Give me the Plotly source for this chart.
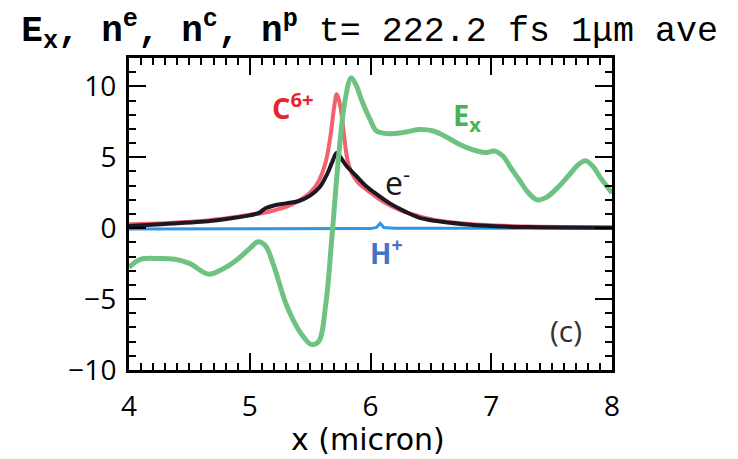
import plotly.graph_objects as go

# ---- data ----
ex_x = [4.0, 4.1, 4.25, 4.38, 4.5, 4.66, 4.78, 4.9, 5.0, 5.07, 5.13, 5.2, 5.3, 5.41,
        5.51, 5.57, 5.63, 5.68, 5.74, 5.79, 5.84, 5.88, 5.93, 6.0, 6.05, 6.16, 6.28,
        6.4, 6.52, 6.62, 6.74, 6.85, 6.95, 7.03, 7.1, 7.16, 7.23, 7.3, 7.38, 7.46,
        7.55, 7.65, 7.72, 7.78, 7.84, 7.9, 8.0]
ex_y = [-2.76, -2.19, -2.14, -2.19, -2.48, -3.24, -2.86, -2.19, -1.43, -0.95, -1.24,
        -2.67, -5.33, -7.24, -8.19, -8.0, -5.33, -0.67, 5.43, 9.04, 10.6, 10.1, 8.95,
        7.6, 6.85, 6.66, 6.76, 6.95, 6.85, 6.47, 5.9, 5.52, 5.33, 5.43, 5.05, 4.28,
        3.43, 2.57, 2.0, 2.19, 2.86, 3.8, 4.47, 4.76, 4.38, 3.62, 2.48]

c_x = [4.0, 4.3, 4.6, 4.85, 5.0, 5.1, 5.2, 5.3, 5.4, 5.5, 5.57, 5.63, 5.67, 5.7, 5.72,
       5.75, 5.78, 5.81, 5.85, 5.9, 6.0, 6.1, 6.25, 6.4, 6.55, 6.75, 7.0, 7.3, 7.6, 8.0]
c_y = [0.28, 0.35, 0.5, 0.75, 0.95, 1.05, 1.25, 1.5, 1.9, 2.5, 3.3, 4.7, 6.6, 8.6, 9.45,
       8.6, 6.6, 4.8, 3.8, 3.2, 2.5, 1.9, 1.25, 0.85, 0.55, 0.35, 0.2, 0.12, 0.08, 0.05]

e_x = [4.0, 4.3, 4.6, 4.85, 5.0, 5.08, 5.13, 5.2, 5.3, 5.4, 5.5, 5.58, 5.64, 5.68, 5.72,
       5.76, 5.8, 5.88, 5.96, 6.05, 6.16, 6.28, 6.4, 6.55, 6.75, 7.0, 7.3, 7.6, 8.0]
e_y = [0.15, 0.3, 0.45, 0.7, 0.9, 1.1, 1.4, 1.6, 1.75, 1.9, 2.3, 2.9, 3.8, 4.6, 5.3,
       4.9, 4.4, 3.7, 3.0, 2.4, 1.75, 1.2, 0.75, 0.5, 0.3, 0.15, 0.08, 0.05, 0.03]

h_x = [4.0, 5.0, 6.0, 6.05, 6.08, 6.11, 6.2, 7.0, 8.0]
h_y = [-0.05, -0.05, -0.03, 0.05, 0.35, 0.05, 0.0, 0.0, 0.0]

x_range = [4, 8]
y_range = [-10, 12]
title_left = "E<sub>x</sub>, n<sup>e</sup>, n<sup>c</sup>, n<sup>p</sup>"
title_right = " t= 222.2 fs 1\u03bcm ave"
title_text = ("<span style=\"font-size:36px\"><b>" + title_left + "</b></span>"
              + title_right)

fig = go.Figure()
fig.add_trace(go.Scatter(x=h_x, y=h_y, mode="lines",
                         line=dict(color="rgb(50,150,225)", width=3)))
fig.add_trace(go.Scatter(x=c_x, y=c_y, mode="lines", line_shape="spline",
                         line=dict(color="rgba(240,70,85,0.85)", width=4)))
fig.add_trace(go.Scatter(x=e_x, y=e_y, mode="lines", line_shape="spline",
                         line=dict(color="rgb(30,22,35)", width=4)))
fig.add_trace(go.Scatter(x=ex_x, y=ex_y, mode="lines", line_shape="spline",
                         line=dict(color="rgb(110,195,130)", width=5)))

lab_font = "Open Sans"
fig.add_annotation(x=5.36, y=8.6, text="<b>C<sup>6+</sup></b>", showarrow=False,
                   font=dict(family=lab_font, size=29, color="rgb(232,35,45)"))
fig.add_annotation(x=6.8, y=7.9, text="<b>E<sub>x</sub></b>", showarrow=False,
                   font=dict(family=lab_font, size=29, color="rgb(70,180,80)"))
fig.add_annotation(x=6.22, y=3.3, text="e<sup>-</sup>", showarrow=False,
                   font=dict(family=lab_font, size=32, color="rgb(25,25,25)"))
fig.add_annotation(x=6.13, y=-1.65, text="<b>H<sup>+</sup></b>", showarrow=False,
                   font=dict(family=lab_font, size=28, color="rgb(68,114,196)"))
fig.add_annotation(x=7.62, y=-7.2, text="(c)", showarrow=False,
                   font=dict(family=lab_font, size=30, color="rgb(50,50,50)"))
fig.add_annotation(xref="paper", yref="paper", x=0.495, y=-0.224,
                   xanchor="center", yanchor="middle",
                   text="x (micron)", showarrow=False,
                   font=dict(family="DejaVu Sans", size=30, color="black"))

axis_common = dict(showline=True, linecolor="black", linewidth=3, mirror="allticks",
                   ticks="inside", tickcolor="black", tickwidth=2, ticklen=17,
                   showgrid=False, zeroline=False, automargin=False,
                   tickfont=dict(family="Open Sans", size=28, color="black"))

fig.update_xaxes(range=x_range, dtick=1, tick0=4,
                 minor=dict(ticks="inside", dtick=0.1, ticklen=7, tickwidth=2,
                            tickcolor="black", showgrid=False),
                 ticklabelstandoff=9, **axis_common)
fig.update_yaxes(range=y_range, dtick=5, tick0=0,
                 minor=dict(ticks="inside", dtick=1, ticklen=7, tickwidth=2,
                            tickcolor="black", showgrid=False),
                 ticklabelstandoff=4, **axis_common)

# the page adds an 8 px body margin, so margins are set 8 px smaller on top/left
fig.update_layout(
    width=738, height=459,
    margin=dict(l=121, r=134, t=50, b=97),
    paper_bgcolor="white", plot_bgcolor="white",
    showlegend=False,
    title=dict(text=title_text, x=0.49, xanchor="center", y=0.955, yanchor="middle",
               font=dict(family="Liberation Mono", size=35, color="black")),
)

fig.write_html("out.html")
